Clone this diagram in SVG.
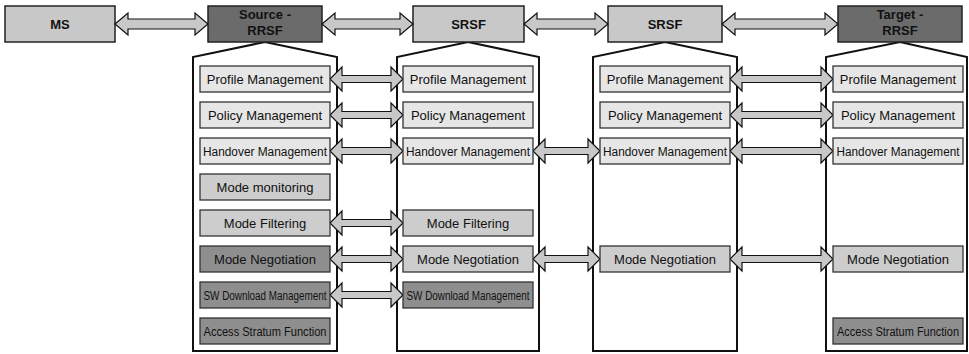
<svg xmlns="http://www.w3.org/2000/svg" xmlns:xlink="http://www.w3.org/1999/xlink" width="969" height="354" viewBox="0 0 969 354">
<style>
text{font-family:"Liberation Sans",Arial,sans-serif;fill:#111;text-anchor:middle}
.top{font-size:13px;font-weight:bold}
.in{font-size:13px}
.sq{font-size:12px}
.tb{stroke:#222;stroke-width:1.5}
.light{fill:#c8c8c8}
.dark{fill:#6b6b6b}
.cont{fill:#fff;stroke:#111;stroke-width:2}
.b{stroke:#333;stroke-width:1.3}
.f1{fill:#e6e6e6}
.f2{fill:#cdcdcd}
.f3{fill:#8e8e8e}
.arr{fill:#c8c8c8;stroke:#111;stroke-width:1.2;stroke-linejoin:miter}
</style>
<defs>
<path id="a12" d="M330,0 L342,-12 L342,-3.5 L391,-3.5 L391,-12 L403,0 L391,12 L391,3.5 L342,3.5 L342,12 Z"/>
<path id="a23" d="M533,0 L545,-12 L545,-3.5 L588,-3.5 L588,-12 L600,0 L588,12 L588,3.5 L545,3.5 L545,12 Z"/>
<path id="a34" d="M730,0 L742,-12 L742,-3.5 L821,-3.5 L821,-12 L833,0 L821,12 L821,3.5 L742,3.5 L742,12 Z"/>
</defs>

<g id="containers">
<path id="c1" class="cont" d="M265,42 L337,57 L337,351 L193,351 L193,57 Z"/>
<path id="c2" class="cont" d="M468,42 L539,57 L539,351 L397,351 L397,57 Z"/>
<path id="c3" class="cont" d="M665,42 L737,57 L737,351 L593,351 L593,57 Z"/>
<path id="c4" class="cont" d="M900,42 L967,57 L967,351 L826,351 L826,57 Z"/>
</g>

<g id="ms"><rect class="tb light" x="5" y="6" width="110" height="36"/><text class="top" x="60" y="29">MS</text></g>
<g id="source"><rect class="tb dark" x="208" y="6" width="114" height="36"/><text class="top" x="265" y="19">Source -</text><text class="top" x="265" y="35">RRSF</text></g>
<g id="srsf1"><rect class="tb light" x="413" y="6" width="111" height="36"/><text class="top" x="468.5" y="29">SRSF</text></g>
<g id="srsf2"><rect class="tb light" x="608" y="6" width="114" height="36"/><text class="top" x="665" y="29">SRSF</text></g>
<g id="target"><rect class="tb dark" x="838" y="6" width="124" height="36"/><text class="top" x="900" y="19">Target -</text><text class="top" x="900" y="35">RRSF</text></g>

<g id="connectors">
<path class="arr" d="M115,24 L128,13 L128,19 L195,19 L195,13 L208,24 L195,35 L195,29 L128,29 L128,35 Z"/>
<path class="arr" d="M322,24 L335,13 L335,19 L400,19 L400,13 L413,24 L400,35 L400,29 L335,29 L335,35 Z"/>
<path class="arr" d="M524,24 L537,13 L537,19 L595,19 L595,13 L608,24 L595,35 L595,29 L537,29 L537,35 Z"/>
<path class="arr" d="M722,24 L735,13 L735,19 L825,19 L825,13 L838,24 L825,35 L825,29 L735,29 L735,35 Z"/>
<use class="arr" href="#a12" y="79"/>
<use class="arr" href="#a34" y="79"/>
<use class="arr" href="#a12" y="115"/>
<use class="arr" href="#a34" y="115"/>
<use class="arr" href="#a12" y="151"/>
<use class="arr" href="#a23" y="151"/>
<use class="arr" href="#a34" y="151"/>
<use class="arr" href="#a12" y="223"/>
<use class="arr" href="#a12" y="259"/>
<use class="arr" href="#a23" y="259"/>
<use class="arr" href="#a34" y="259"/>
<use class="arr" href="#a12" y="295"/>
</g>

<g id="src-modules">
<g id="s-profile"><rect class="b f1" x="200" y="66" width="130" height="26"/><text class="in" x="265" y="84">Profile Management</text></g>
<g id="s-policy"><rect class="b f1" x="200" y="102" width="130" height="26"/><text class="in" x="265" y="120">Policy Management</text></g>
<g id="s-handover"><rect class="b f1" x="200" y="138" width="130" height="26"/><text class="sq" x="265" y="155.5" textLength="124" lengthAdjust="spacingAndGlyphs">Handover Management</text></g>
<g id="s-monitor"><rect class="b f2" x="200" y="174" width="130" height="26"/><text class="in" x="265" y="192">Mode monitoring</text></g>
<g id="s-filter"><rect class="b f2" x="200" y="210" width="130" height="26"/><text class="in" x="265" y="228">Mode Filtering</text></g>
<g id="s-negot"><rect class="b f3" x="200" y="246" width="130" height="26"/><text class="in" x="265" y="264">Mode Negotiation</text></g>
<g id="s-sw"><rect class="b f3" x="200" y="282" width="130" height="26"/><text class="sq" x="265" y="299.5" textLength="123" lengthAdjust="spacingAndGlyphs">SW Download Management</text></g>
<g id="s-access"><rect class="b f3" x="200" y="318" width="130" height="26"/><text class="sq" x="265" y="335.5" textLength="123" lengthAdjust="spacingAndGlyphs">Access Stratum Function</text></g>
</g>

<g id="srsf1-modules">
<g id="m1-profile"><rect class="b f1" x="403" y="66" width="130" height="26"/><text class="in" x="468" y="84">Profile Management</text></g>
<g id="m1-policy"><rect class="b f1" x="403" y="102" width="130" height="26"/><text class="in" x="468" y="120">Policy Management</text></g>
<g id="m1-handover"><rect class="b f1" x="403" y="138" width="130" height="26"/><text class="sq" x="468" y="155.5" textLength="124" lengthAdjust="spacingAndGlyphs">Handover Management</text></g>
<g id="m1-filter"><rect class="b f2" x="403" y="210" width="130" height="26"/><text class="in" x="468" y="228">Mode Filtering</text></g>
<g id="m1-negot"><rect class="b f2" x="403" y="246" width="130" height="26"/><text class="in" x="468" y="264">Mode Negotiation</text></g>
<g id="m1-sw"><rect class="b f3" x="403" y="282" width="130" height="26"/><text class="sq" x="468" y="299.5" textLength="123" lengthAdjust="spacingAndGlyphs">SW Download Management</text></g>
</g>

<g id="srsf2-modules">
<g id="m2-profile"><rect class="b f1" x="600" y="66" width="130" height="26"/><text class="in" x="665" y="84">Profile Management</text></g>
<g id="m2-policy"><rect class="b f1" x="600" y="102" width="130" height="26"/><text class="in" x="665" y="120">Policy Management</text></g>
<g id="m2-handover"><rect class="b f1" x="600" y="138" width="130" height="26"/><text class="sq" x="665" y="155.5" textLength="124" lengthAdjust="spacingAndGlyphs">Handover Management</text></g>
<g id="m2-negot"><rect class="b f2" x="600" y="246" width="130" height="26"/><text class="in" x="665" y="264">Mode Negotiation</text></g>
</g>

<g id="tgt-modules">
<g id="t-profile"><rect class="b f1" x="833" y="66" width="130" height="26"/><text class="in" x="898" y="84">Profile Management</text></g>
<g id="t-policy"><rect class="b f1" x="833" y="102" width="130" height="26"/><text class="in" x="898" y="120">Policy Management</text></g>
<g id="t-handover"><rect class="b f1" x="833" y="138" width="130" height="26"/><text class="sq" x="898" y="155.5" textLength="123" lengthAdjust="spacingAndGlyphs">Handover Management</text></g>
<g id="t-negot"><rect class="b f2" x="833" y="246" width="130" height="26"/><text class="in" x="898" y="264">Mode Negotiation</text></g>
<g id="t-access"><rect class="b f3" x="833" y="318" width="130" height="26"/><text class="sq" x="898" y="335.5" textLength="122" lengthAdjust="spacingAndGlyphs">Access Stratum Function</text></g>
</g>
</svg>
